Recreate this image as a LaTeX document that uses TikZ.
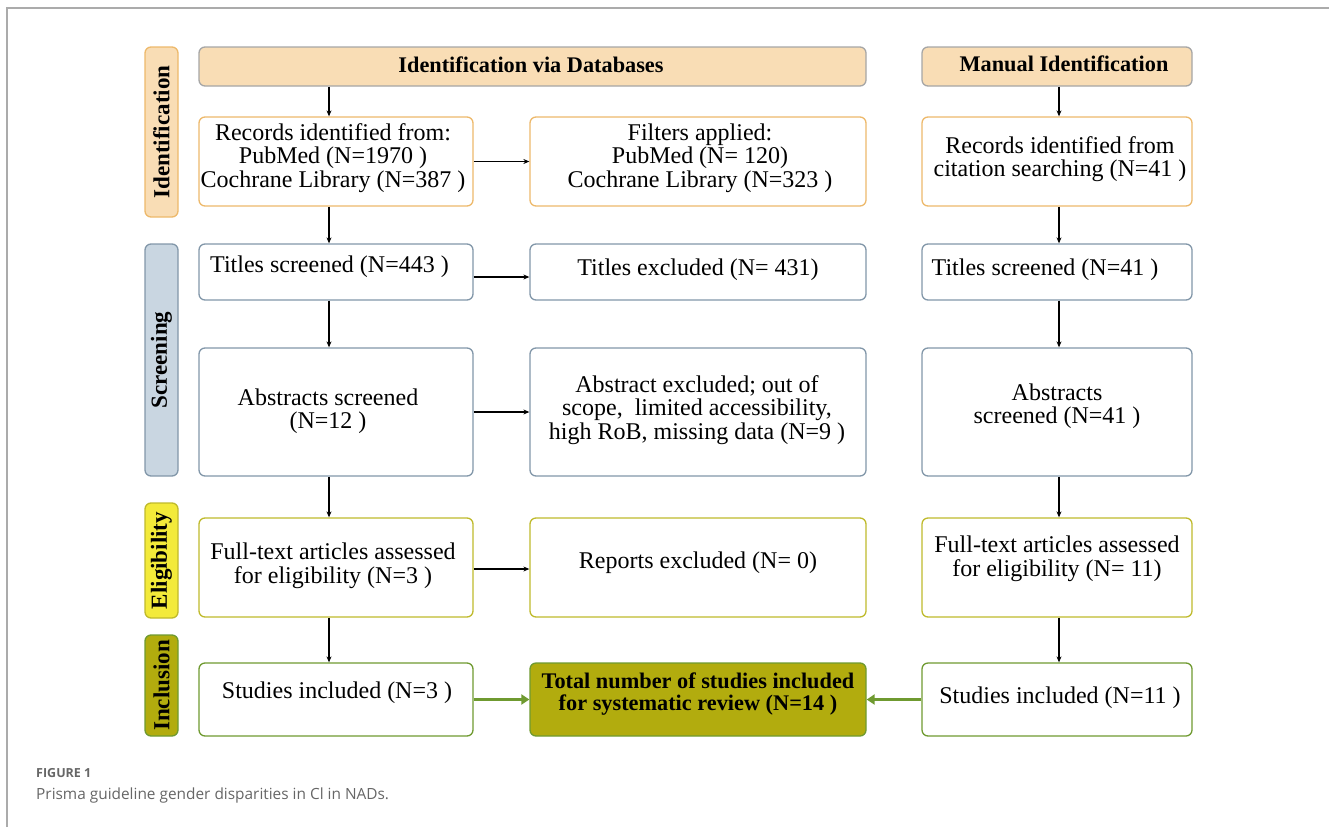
\documentclass[tikz,border=0pt]{standalone}
\usepackage{fontspec}
\setmainfont{Liberation Serif}
\newfontfamily\capfont{Open Sans}
\usetikzlibrary{arrows.meta}
\definecolor{idfill}{HTML}{F9DDB5}
\definecolor{idline}{HTML}{EDB96B}
\definecolor{hdrline}{HTML}{A6A6A6}
\definecolor{scfill}{HTML}{C9D6E1}
\definecolor{scline}{HTML}{8297A9}
\definecolor{elfill}{HTML}{F3EA3A}
\definecolor{elline}{HTML}{BFBA2C}
\definecolor{infill}{HTML}{B2AC0E}
\definecolor{inline}{HTML}{6F9A30}
\definecolor{frame}{HTML}{ABABAB}
\definecolor{captxt}{HTML}{666666}
\tikzset{
  boxbase/.style={rounded corners=6pt, line width=1.3pt, inner sep=0pt, fill=white},
  idbox/.style={boxbase, draw=idline},
  scbox/.style={boxbase, draw=scline},
  elbox/.style={boxbase, draw=elline},
  inbox/.style={boxbase, draw=inline},
  hdrbox/.style={boxbase, draw=hdrline, fill=idfill},
  side/.style={rounded corners=6pt, line width=1.3pt, inner sep=0pt, minimum width=33pt},
  txt/.style={align=center, font=\fontsize{24}{23.5}\selectfont, inner sep=0pt},
  btxt/.style={txt, font=\fontsize{22.3}{22}\selectfont\bfseries},
  sidetxt/.style={rotate=90, font=\fontsize{23}{24}\selectfont\bfseries, inner sep=0pt},
  arr/.style={-{Stealth[length=6pt,width=5pt]}, line width=1.2pt, black},
  garr/.style={-{Triangle[length=8pt,width=10pt]}, line width=3pt, inline},
}
\begin{document}
\begin{tikzpicture}[x=1pt,y=-1pt]
\useasboundingbox (0,0) rectangle (1329,827);
% frame
\draw[frame, line width=1.5pt] (7,827) -- (7,8) -- (1329,8);

% side labels
\node[side, draw=idline, fill=idfill, minimum height=170pt] (sid) at (161.5,132) {};
\node[sidetxt] at (sid.center) {Identification};
\node[side, draw=scline, fill=scfill, minimum height=232pt] (ssc) at (161.5,360) {};
\node[sidetxt] at (ssc.center) {Screening};
\node[side, draw=elline, fill=elfill, minimum height=115pt] (sel) at (161.5,560.5) {};
\node[sidetxt] at (sel.center) {Eligibility};
\node[side, draw=inline, fill=infill, minimum height=101pt] (sin) at (161.5,685.5) {};
\node[sidetxt] at (sin.center) {Inclusion};

% headers
\node[hdrbox, minimum width=667pt, minimum height=39pt] (hdb) at (532.5,66.5) {};
\node[btxt] at (531,65) {Identification via Databases};
\node[hdrbox, minimum width=270pt, minimum height=39pt] (hman) at (1057,66.5) {};
\node[btxt] at (1064,64) {Manual Identification};

% column 1
\node[idbox, minimum width=274pt, minimum height=89pt] (rec1) at (336,161.5) {};
\node[txt] at (333,158) {Records identified from:\\PubMed (N=1970 )\\Cochrane Library (N=387 )};
\node[scbox, minimum width=274pt, minimum height=56pt] (ts1) at (336,272) {};
\node[txt, anchor=west] at (210,267) {Titles screened (N=443 )};
\node[scbox, minimum width=274pt, minimum height=128pt] (ab1) at (336,412) {};
\node[txt] at (328,411) {Abstracts screened\\(N=12 )};
\node[elbox, minimum width=274pt, minimum height=99pt] (ft1) at (336,567.5) {};
\node[txt] at (333,566) {Full-text articles assessed\\for eligibility (N=3 )};
\node[inbox, minimum width=274pt, minimum height=73pt] (st1) at (336,699.5) {};
\node[txt] at (337,693) {Studies included (N=3 )};

% column 2
\node[idbox, minimum width=336pt, minimum height=89pt] (flt) at (698,161.5) {};
\node[txt] at (700,158) {Filters applied:\\PubMed (N= 120)\\Cochrane Library (N=323 )};
\node[scbox, minimum width=336pt, minimum height=56pt] (te) at (698,272) {};
\node[txt] at (698,270) {Titles excluded (N= 431)};
\node[scbox, minimum width=336pt, minimum height=128pt] (ae) at (698,412) {};
\node[txt] at (697,410) {Abstract excluded; out of\\scope,\ \ limited accessibility,\\high RoB, missing data (N=9 )};
\node[elbox, minimum width=336pt, minimum height=99pt] (re) at (698,567.5) {};
\node[txt] at (698,563) {Reports excluded (N= 0)};
\node[boxbase, draw=inline, fill=infill, minimum width=336pt, minimum height=73pt] (tot) at (698,699.5) {};
\node[btxt] at (698,694) {Total number of studies included\\for systematic review (N=14 )};

% column 3
\node[idbox, minimum width=270pt, minimum height=89pt] (rec3) at (1057,161.5) {};
\node[txt] at (1060,159) {Records identified from\\citation searching (N=41 )};
\node[scbox, minimum width=270pt, minimum height=56pt] (ts3) at (1057,272) {};
\node[txt] at (1045,270) {Titles screened (N=41 )};
\node[scbox, minimum width=270pt, minimum height=128pt] (ab3) at (1057,412) {};
\node[txt] at (1057,406) {Abstracts\\screened (N=41 )};
\node[elbox, minimum width=270pt, minimum height=99pt] (ft3) at (1057,567.5) {};
\node[txt] at (1057,559) {Full-text articles assessed\\for eligibility (N= 11)};
\node[inbox, minimum width=270pt, minimum height=73pt] (st3) at (1057,699.5) {};
\node[txt] at (1060,698) {Studies included (N=11 )};

% arrow columns
\coordinate (c1) at (329,0);
\coordinate (c3) at (1059,0);
\draw[arr] (hdb.south -| c1) -- (rec1.north -| c1);
\draw[arr] (rec1.south -| c1) -- (ts1.north -| c1);
\draw[arr] (ts1.south -| c1) -- (ab1.north -| c1);
\draw[arr] (ab1.south -| c1) -- (ft1.north -| c1);
\draw[arr] (ft1.south -| c1) -- (st1.north -| c1);
\draw[arr] (hman.south -| c3) -- (rec3.north -| c3);
\draw[arr] (rec3.south -| c3) -- (ts3.north -| c3);
\draw[arr] (ts3.south -| c3) -- (ab3.north -| c3);
\draw[arr] (ab3.south -| c3) -- (ft3.north -| c3);
\draw[arr] (ft3.south -| c3) -- (st3.north -| c3);
% horizontal arrows
\draw[arr] (rec1.east) -- (flt.west);
\draw[arr] ([yshift=-5pt]ts1.east) -- ([yshift=-5pt]te.west);
\draw[arr] (ab1.east) -- (ae.west);
\draw[arr] ([yshift=-1.5pt]ft1.east) -- ([yshift=-1.5pt]re.west);
\draw[garr] (st1.east) -- (tot.west);
\draw[garr] (st3.west) -- (tot.east);

% caption
\node[anchor=base west, inner sep=0pt, text=captxt, font=\capfont\fontsize{12.5}{15}\selectfont\bfseries] (fig) at (36,777) {FIGURE 1};
\node[anchor=base west, inner sep=0pt, text=captxt, font=\capfont\fontsize{15.4}{18}\selectfont] (cap) at (36,799) {Prisma guideline gender disparities in Cl in NADs.};
\end{tikzpicture}
\end{document}
